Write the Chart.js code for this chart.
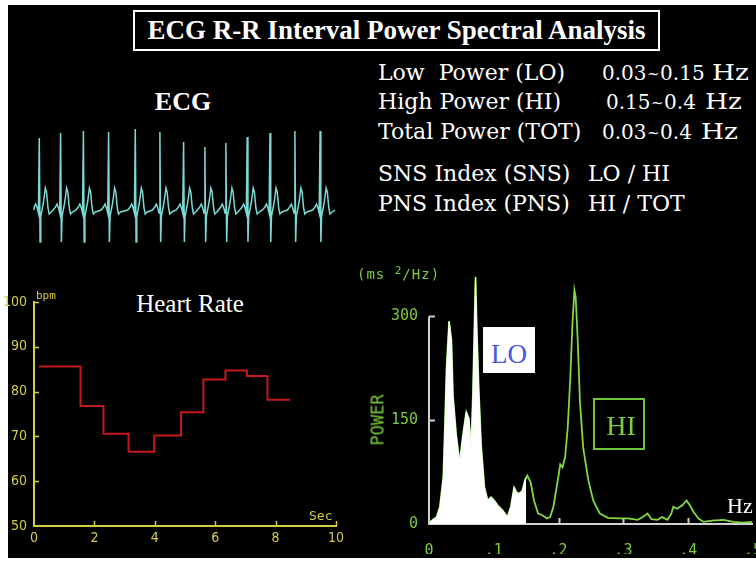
<!DOCTYPE html>
<html>
<head>
<meta charset="utf-8">
<title>ECG R-R Interval Power Spectral Analysis</title>
<script src="https://cdn.jsdelivr.net/npm/chart.js@4.4.1/dist/chart.umd.min.js"></script>
<style>
  html, body { margin: 0; padding: 0; width: 756px; height: 564px; overflow: hidden; background: #fff; }
  #panel { position: absolute; left: 8px; top: 5px; width: 748px; height: 553px; background: #000; }
  .txt { position: absolute; white-space: nowrap; line-height: 1; color: #fff; }
  .mid { transform: translate(-50%, -50%); }
  .left { transform: translate(0, -50%); }
  .times { font-family: 'Liberation Serif', 'Times New Roman', serif; }
  .wide { font-family: 'DejaVu Serif', serif; font-size: 22px; }
  .num { font-family: 'DejaVu Serif', serif; font-size: 20px; }
  .num .tilde { font-size: 15px; margin: 0 0.5px; vertical-align: 1px; }
  .hz { font-family: 'DejaVu Serif', serif; font-size: 22px; transform-origin: 0 50%; transform: translate(0, -50%) scaleX(1.2); }
  .crt { font-family: 'DejaVu Sans Mono', monospace; }
  canvas { position: absolute; }
  #titleBox {
    position: absolute; left: 133px; top: 10px; width: 527px; height: 41px; box-sizing: border-box;
    border: 2px solid #fff; display: flex; align-items: center; justify-content: center;
    color: #fff; font: bold 27px 'Liberation Serif', serif;
  }
  #loBox { position: absolute; left: 483px; top: 327px; width: 52px; height: 46px; background: #fff; }
  #hiBox { position: absolute; left: 593px; top: 398px; width: 52px; height: 52px; box-sizing: border-box; border: 2px solid #6cc43a; }
</style>
</head>
<body>
<div id="panel"></div>

<div id="titleBox">ECG R-R Interval Power Spectral Analysis</div>

<div class="txt times mid" style="left:183px; top:102px; font-size:26px; font-weight:bold;">ECG</div>

<div class="txt wide left" style="left:378px; top:73px;">Low&nbsp; Power (LO)</div>
<div class="txt num left" style="left:602px; top:73px;">0.03<span class="tilde">~</span>0.15</div>
<div class="txt hz" style="left:712px; top:73px;">Hz</div>
<div class="txt wide left" style="left:378px; top:102px;">High Power (HI)</div>
<div class="txt num left" style="left:606px; top:102px;">0.15<span class="tilde">~</span>0.4</div>
<div class="txt hz" style="left:705px; top:102px;">Hz</div>
<div class="txt wide left" style="left:378px; top:132px;">Total Power (TOT)</div>
<div class="txt num left" style="left:602px; top:132px;">0.03<span class="tilde">~</span>0.4</div>
<div class="txt hz" style="left:701px; top:132px;">Hz</div>
<div class="txt wide left" style="left:378px; top:174px;">SNS Index (SNS)</div>
<div class="txt wide left" style="left:588px; top:174px;">LO / HI</div>
<div class="txt wide left" style="left:378px; top:204px;">PNS Index (PNS)</div>
<div class="txt wide left" style="left:588px; top:204px;">HI / TOT</div>

<canvas id="ecgChart" width="320" height="140" style="left:30px; top:115px;"></canvas>

<div class="txt times mid" style="left:190px; top:303px; font-size:25px;">Heart Rate</div>
<canvas id="hrChart" width="356" height="280" style="left:0px; top:280px;"></canvas>
<div class="txt crt" style="left:36px; top:290px; font-size:11px; color:#d4cc44;">bpm</div>
<div class="txt crt" style="left:309px; top:509px; font-size:13px; color:#d4cc44;">Sec</div>

<canvas id="psdChart" width="440" height="309" style="left:340px; top:255px;"></canvas>
<div class="txt crt left" style="left:357px; top:273px; font-size:14px; color:#7ccc3c; letter-spacing:1px;">(ms <sup style="font-size:11px;">2</sup>/Hz)</div>
<div class="txt crt mid" style="left:378px; top:420px; font-size:17px; color:#7ccc3c; transform: translate(-50%, -50%) rotate(-90deg);">POWER</div>
<div id="loBox"></div>
<div class="txt times mid" style="left:509px; top:354px; font-size:27px; color:#4658dc;">LO</div>
<div id="hiBox"></div>
<div class="txt times mid" style="left:621px; top:426px; font-size:28px; color:#7ccc3c;">HI</div>
<div class="txt times left" style="left:727px; top:506px; font-size:22px;">Hz</div>

<script>
// ECG strip: R-peak times (s) and R-wave heights
const ecgStart = 0.13;
const ecgEnd = 10.17;
const rTimes = [0.31, 1.02, 1.78, 2.62, 3.51, 4.33, 5.12, 5.83, 6.53, 7.24, 8.0, 8.83, 9.67];
const rHeights = [72, 77, 79, 78, 81, 78, 68, 63, 67, 73, 77, 79, 79];
// one P-QRS-T complex: offset from the R peak (s) and level; null is the R peak itself
const beatShape = [
  [-0.25, 0], [-0.17, 3], [-0.12, 6], [-0.07, 2], [-0.03, -3], [0, null], [0.025, -32],
  [0.05, -6], [0.09, 0], [0.14, 8], [0.2, 22], [0.24, 18], [0.29, 2], [0.33, -4], [0.4, -2]
];

// heart rate steps: start time (s) of each level and its rate (bpm)
const hrTimes = [0.16, 1.54, 2.30, 3.13, 3.98, 4.87, 5.61, 6.34, 7.05, 7.73, 8.48];
const hrBpm = [85.6, 76.8, 70.6, 66.6, 70.2, 75.4, 82.7, 84.7, 83.5, 78.2, 78.2];
const hrXTicks = [2, 4, 6, 8, 10];
const hrYTicks = [60, 70, 80, 90, 100];

// R-R interval power spectrum (Hz, ms^2/Hz)
const psdFreq = [
  0.0015, 0.0117, 0.0168, 0.022, 0.0244, 0.027, 0.031, 0.0346, 0.037, 0.042, 0.0473, 0.0524,
  0.0575, 0.0615, 0.065, 0.0677, 0.0702, 0.0718, 0.0738, 0.0768, 0.0804, 0.0855, 0.0906, 0.0957,
  0.1008, 0.106, 0.1134, 0.121, 0.1263, 0.1313, 0.135, 0.139, 0.144, 0.148, 0.150, 0.1517,
  0.157, 0.162, 0.1685, 0.1745, 0.182, 0.187, 0.192, 0.197, 0.2026, 0.206, 0.21, 0.214,
  0.218, 0.2214, 0.2244, 0.2264, 0.2295, 0.233, 0.238, 0.246, 0.2534, 0.2637, 0.276, 0.2916,
  0.307, 0.322, 0.33, 0.3374, 0.3435, 0.3527, 0.36, 0.368, 0.374, 0.377, 0.383, 0.391,
  0.3975, 0.4026, 0.4087, 0.416, 0.424, 0.4366, 0.4545, 0.47, 0.4835, 0.499
];
const psdPower = [
  3, 10, 25, 67, 138, 224, 293, 266, 186, 129, 89, 129,
  162, 153, 110, 186, 290, 357, 281, 195, 115, 53, 34, 39,
  34, 27, 20, 10, 25, 53, 46, 44, 48, 63, 67, 70,
  60, 34, 15, 13, 8, 10, 25, 53, 86, 82, 96, 138,
  210, 290, 338, 328, 266, 176, 110, 63, 34, 15, 9, 8,
  8, 6, 10, 15, 7, 6, 10, 6, 15, 25, 22, 27,
  34, 27, 17, 8, 3, 5, 6, 3, 2, 3
];
const loUpper = 0.15;
const psdXTicks = [0.1, 0.2, 0.3, 0.4];
const psdYTicks = [0, 150, 300];

const YELLOW = '#d4cc44';
const RED = '#c41a1a';
const GREEN = '#7ccc3c';
const TRACE_GREEN = '#82d943';
const GREY = '#cfcfcf';
const CYAN = '#7cd8d4';

// short tick marks pointing into the plot, plus an optional partial y axis line
const innerTicks = {
  id: 'innerTicks',
  beforeDatasetsDraw(chart, args, opts) {
    const { ctx, chartArea } = chart;
    const xs = chart.scales.x, ys = chart.scales.y;
    ctx.save();
    ctx.strokeStyle = opts.color;
    ctx.lineWidth = opts.width;
    ctx.beginPath();
    if (opts.yLine) {
      ctx.moveTo(chartArea.left, ys.getPixelForValue(opts.yLine[0]));
      ctx.lineTo(chartArea.left, ys.getPixelForValue(opts.yLine[1]));
    }
    (opts.x || []).forEach(v => {
      const px = Math.round(xs.getPixelForValue(v)) + 0.5;
      ctx.moveTo(px, chartArea.bottom);
      ctx.lineTo(px, chartArea.bottom - opts.len);
    });
    (opts.y || []).forEach(v => {
      const py = Math.round(ys.getPixelForValue(v)) + 0.5;
      ctx.moveTo(chartArea.left, py);
      ctx.lineTo(chartArea.left + opts.len, py);
    });
    ctx.stroke();
    ctx.restore();
  }
};

const quiet = { legend: { display: false }, tooltip: { enabled: false } };

// #region ECG strip
const ecgPoints = [{ x: ecgStart, y: 0 }];
rTimes.forEach((t, i) => {
  beatShape.forEach(([dt, level]) => {
    if (t + dt > ecgStart) ecgPoints.push({ x: t + dt, y: level === null ? rHeights[i] : level });
  });
});
ecgPoints.push({ x: ecgEnd, y: 0 });

new Chart(document.getElementById('ecgChart'), {
  type: 'line',
  data: { datasets: [{ data: ecgPoints, borderColor: CYAN, borderWidth: 1.5, pointRadius: 0, tension: 0 }] },
  options: {
    responsive: false, animation: false, events: [],
    layout: { padding: 0 },
    plugins: quiet,
    scales: {
      x: { type: 'linear', min: 0, max: 320 / 30, display: false },
      y: { min: -45, max: 95, display: false }
    }
  }
});
// #endregion ECG strip

// #region Heart rate
const hrFont = { family: "'Liberation Sans Narrow', 'DejaVu Sans Condensed', 'DejaVu Sans Mono', monospace", size: 14 };

new Chart(document.getElementById('hrChart'), {
  type: 'line',
  data: {
    datasets: [{
      data: hrTimes.map((t, i) => ({ x: t, y: hrBpm[i] })),
      stepped: true, borderColor: RED, borderWidth: 2, pointRadius: 0, fill: false
    }]
  },
  options: {
    responsive: false, animation: false, events: [],
    layout: { padding: { left: 0, top: 22, right: 20, bottom: 14 } },
    plugins: Object.assign({}, quiet, {
      innerTicks: { color: YELLOW, width: 1.5, len: 5, x: hrXTicks, y: hrYTicks }
    }),
    scales: {
      x: {
        type: 'linear', min: 0, max: 10,
        afterFit: s => { s.height = 20; },
        grid: { display: false, drawTicks: false },
        border: { color: YELLOW, width: 2 },
        ticks: { stepSize: 2, color: YELLOW, padding: 4, font: hrFont, maxRotation: 0, autoSkip: false }
      },
      y: {
        min: 50, max: 100,
        afterFit: s => { s.width = 34; },
        grid: { display: false, drawTicks: false },
        border: { color: YELLOW, width: 2 },
        ticks: { stepSize: 10, color: YELLOW, padding: 7, font: hrFont }
      }
    }
  },
  plugins: [innerTicks]
});
// #endregion Heart rate

// #region Power spectrum
const psdFont = { family: "'DejaVu Sans Mono', monospace", size: 15 };
const psdPoints = psdFreq.map((f, i) => ({ x: f, y: psdPower[i] }));
const loPoints = psdPoints.filter(p => p.x <= loUpper);

new Chart(document.getElementById('psdChart'), {
  type: 'line',
  data: {
    datasets: [
      // LO band, filled white
      { data: loPoints, borderColor: '#fff', borderWidth: 1, backgroundColor: '#fff', fill: 'origin', pointRadius: 0, tension: 0, clip: false },
      // whole spectrum
      { data: psdPoints, borderColor: TRACE_GREEN, borderWidth: 1.8, pointRadius: 0, fill: false, tension: 0, clip: false }
    ]
  },
  options: {
    responsive: false, animation: false, events: [],
    layout: { padding: { left: 0, top: 16, right: 23.5, bottom: 10 } },
    plugins: Object.assign({}, quiet, {
      innerTicks: { color: GREY, width: 2, len: 6, x: psdXTicks, y: [150, 300], yLine: [0, 300] }
    }),
    scales: {
      x: {
        type: 'linear', min: 0, max: 0.5,
        afterFit: s => { s.height = 30; },
        grid: { display: false, drawTicks: false },
        border: { color: GREY, width: 2 },
        ticks: {
          stepSize: 0.1, color: GREEN, padding: 18, font: psdFont, maxRotation: 0, autoSkip: false,
          callback: v => v === 0 ? '0' : '.' + Math.round(v * 10)
        }
      },
      y: {
        min: 0, max: 360,
        afterFit: s => { s.width = 89; },
        afterBuildTicks: s => { s.ticks = psdYTicks.map(v => ({ value: v })); },
        grid: { display: false, drawTicks: false },
        border: { display: false },
        ticks: { color: GREEN, padding: 11, font: psdFont }
      }
    }
  },
  plugins: [innerTicks]
});
// #endregion Power spectrum
</script>
</body>
</html>
